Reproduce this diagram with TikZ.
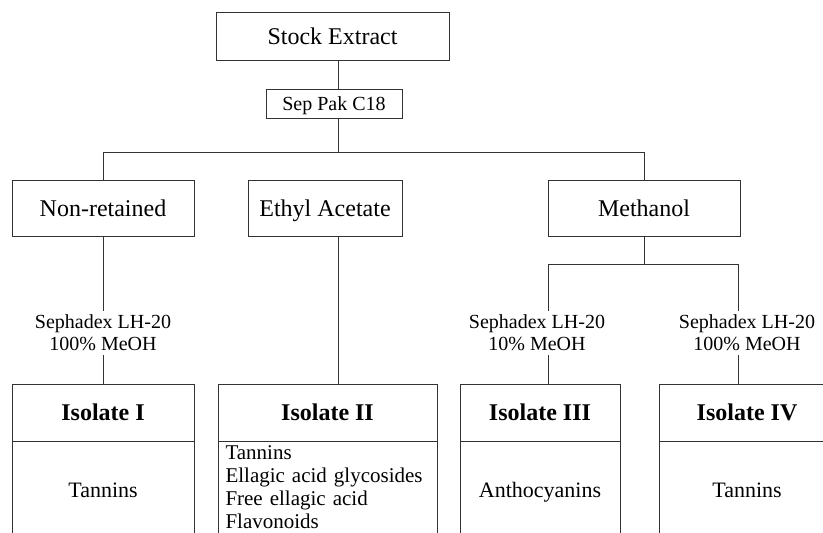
\documentclass[tikz,border=0pt]{standalone}
\usepackage{fontspec}
\setmainfont{Liberation Serif}
\definecolor{lineGray}{RGB}{51,51,51}

\begin{document}
\begin{tikzpicture}[x=1pt, y=-1pt,
    stagebox/.style={draw=lineGray, line width=1pt, inner sep=0pt, text height=16pt, text depth=0pt, font=\fontsize{24}{28}\selectfont},
    headbox/.style={draw=lineGray, line width=1pt, inner sep=0pt, minimum height=57pt, text height=16pt, text depth=0pt, font=\fontsize{24}{28}\selectfont\bfseries},
    cellbox/.style={draw=lineGray, line width=1pt, inner sep=0pt, minimum height=98pt, text height=14.6pt, text depth=0pt, font=\fontsize{22}{26}\selectfont},
    listbox/.style={draw=lineGray, line width=1pt, text width=204pt, inner xsep=7.5pt, inner ysep=4pt, align=left, font=\fontsize{21}{23}\selectfont},
    colnote/.style={align=center, inner sep=4pt, font=\fontsize{20}{22}\selectfont}]
            \useasboundingbox (0,0) rectangle (823,533);
            \clip (0,0) rectangle (823,533);

            % EXTRACT
            \node[stagebox, minimum width=233pt, minimum height=48pt] (stock) at (332.5,36) {Stock Extract};
            \node[stagebox, minimum width=136pt, minimum height=29pt, text height=13.3pt, font=\fontsize{20}{24}\selectfont] (seppak) at (334,103.5) {Sep Pak C18};
            \coordinate (split) at (338,152);

            % FRACTIONS
            \node[stagebox, minimum width=182pt, minimum height=56pt] (nonret) at (103,208.5) {Non-retained};
            \node[stagebox, minimum width=154pt, minimum height=56pt] (ethyl) at (325,208.5) {Ethyl Acetate};
            \node[stagebox, minimum width=192pt, minimum height=56pt] (meth) at (644,208.5) {Methanol};
            \coordinate (subL) at (548,264);
            \coordinate (subR) at (738,264);

            % COLUMNS
            \node[colnote] (lhA) at (103,333) {Sephadex LH-20\\100\% MeOH};
            \node[colnote] (lhB) at (537,333) {Sephadex LH-20\\10\% MeOH};
            \node[colnote] (lhC) at (747,333) {Sephadex LH-20\\100\% MeOH};

            % ISOLATES
            \node[headbox, minimum width=182pt] (isoA) at (103,412.5) {Isolate I};
            \node[cellbox, minimum width=182pt] (isoAc) at (103,490) {Tannins};
            \node[headbox, minimum width=219pt] (isoB) at (327.5,412.5) {Isolate II};
            \node[listbox, anchor=north] (isoBc) at (327.5,441) {Tannins\\Ellagic acid glycosides\\Free ellagic acid\\Flavonoids\rule[-20pt]{0pt}{0pt}};
            \node[headbox, minimum width=160pt] (isoC) at (540,412.5) {Isolate III};
            \node[cellbox, minimum width=160pt] (isoCc) at (540,490) {Anthocyanins};
            \node[headbox, minimum width=176pt] (isoD) at (747,412.5) {Isolate IV};
            \node[cellbox, minimum width=176pt] (isoDc) at (747,490) {Tannins};

            % Lines
            \draw[lineGray, line width=1pt] (stock.south -| split) -- (seppak.north -| split);
            \draw[lineGray, line width=1pt] (seppak.south -| split) -- (split);
            \draw[lineGray, line width=1pt] (nonret.north) -- (nonret.north |- split) -- (meth.north |- split) -- (meth.north);
            \draw[lineGray, line width=1pt] (nonret.south) -- (lhA.north);
            \draw[lineGray, line width=1pt] (lhA.south) -- (isoA.north);
            \draw[lineGray, line width=1pt] (ethyl.south -| split) -- (isoB.north -| split);
            \draw[lineGray, line width=1pt] (meth.south) -- (meth.south |- subL);
            \draw[lineGray, line width=1pt] (subL |- lhB.north) -- (subL) -- (subR) -- (subR |- lhC.north);
            \draw[lineGray, line width=1pt] (lhB.south -| subL) -- (isoC.north -| subL);
            \draw[lineGray, line width=1pt] (lhC.south -| subR) -- (isoD.north -| subR);
        \end{tikzpicture}
\end{document}
